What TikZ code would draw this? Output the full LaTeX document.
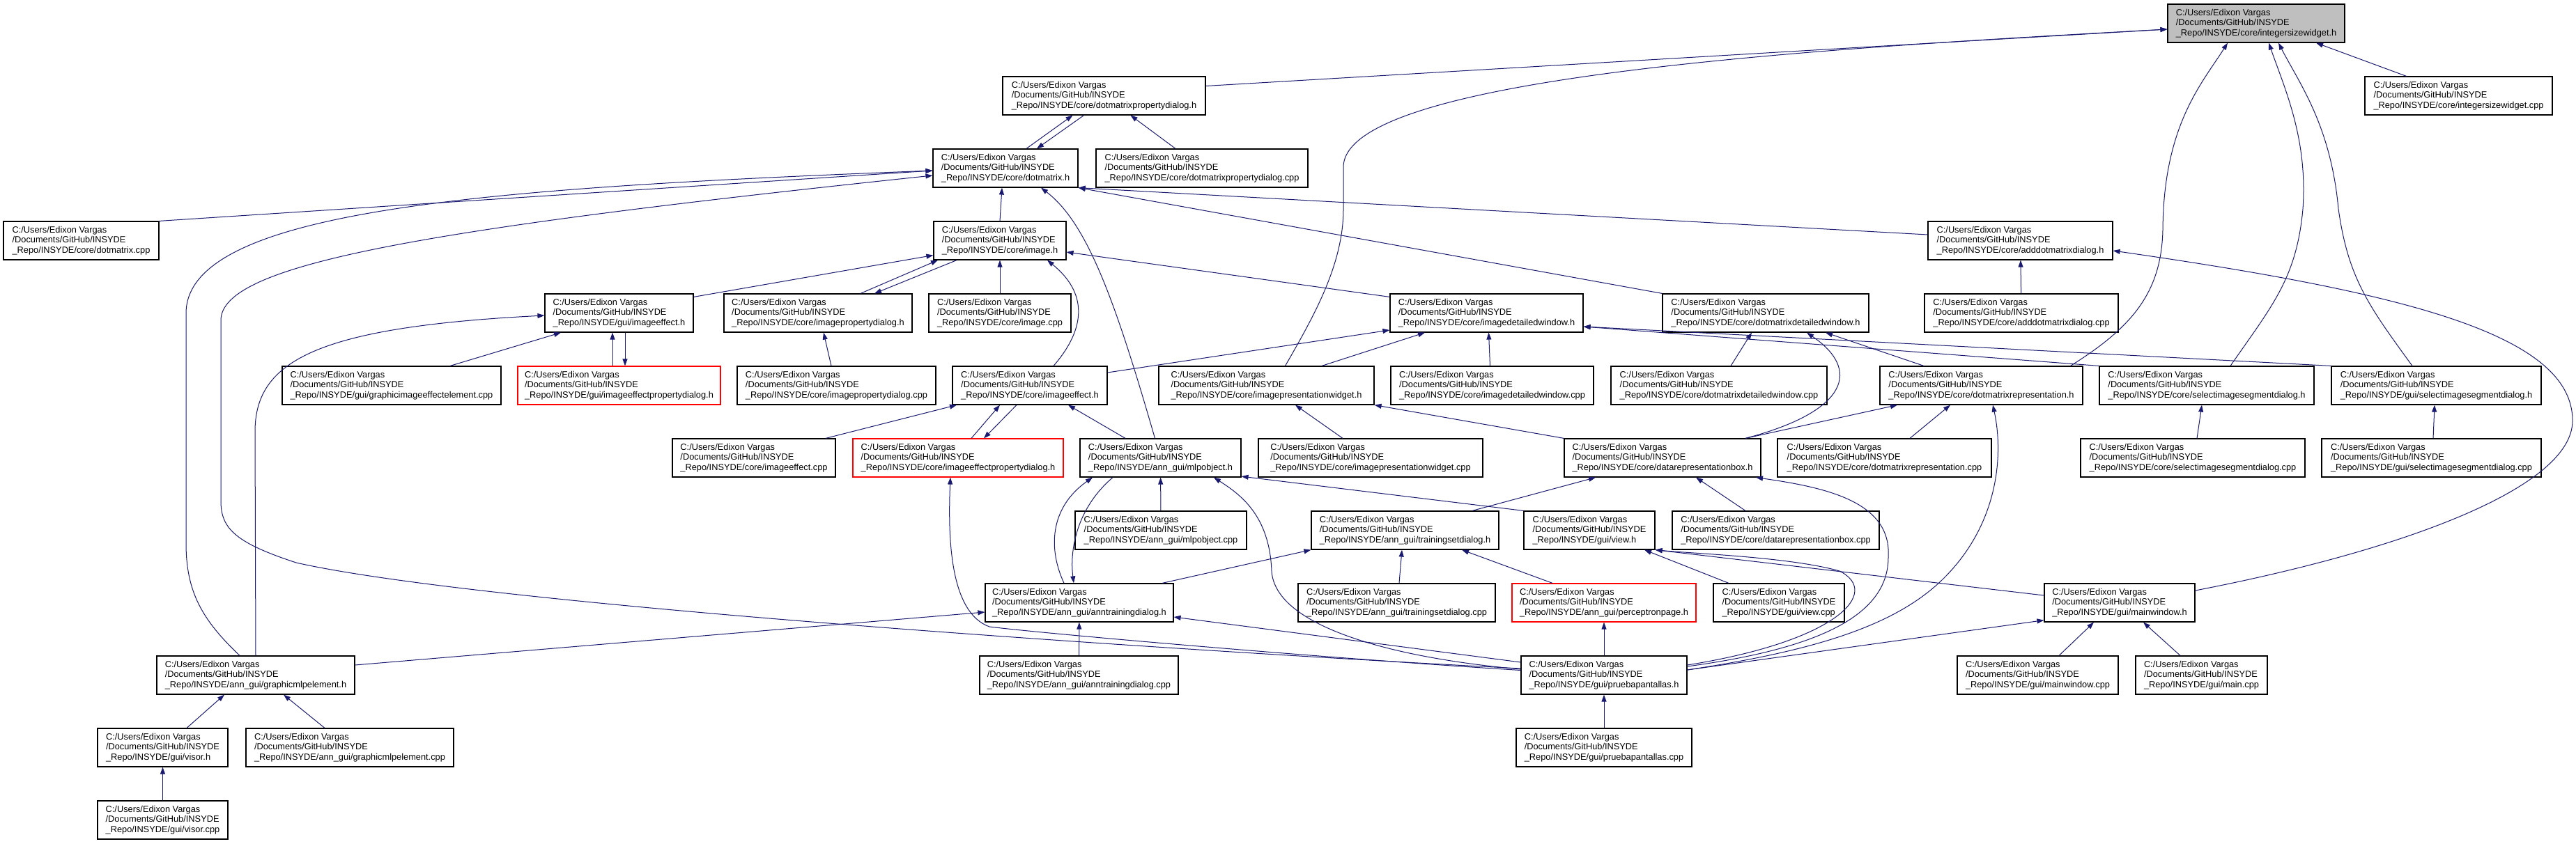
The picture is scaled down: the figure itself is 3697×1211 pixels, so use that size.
\documentclass[tikz,border=0pt]{standalone}
\usepackage{fontspec}
\setmainfont{Liberation Sans}
\usepackage{xcolor,tikz}
\usetikzlibrary{arrows.meta}
\definecolor{edgeblue}{RGB}{25,25,112}
\newcommand{\insyde}{C:/Users/Edixon Vargas\\/Documents/GitHub/INSYDE\\\_Repo/INSYDE/}

\begin{document}
\begin{tikzpicture}[
  x=1pt,y=-1pt,
  file/.style={draw=black,line width=1.2pt,fill=white,align=left,minimum height=55pt,inner sep=3pt,
    font=\fontsize{12.8}{14.7}\selectfont},
  redfile/.style={file,draw=red},
  rootfile/.style={file,fill=gray!50},
  inc/.style={draw=edgeblue,line width=1pt,-{Triangle[length=10pt,width=7pt]}}
]
\useasboundingbox (0,0) rectangle (3697,1211);

% rows of files, top to bottom
\node[rootfile,minimum width=254pt] (isw) at (3238,33.5) {\insyde core/integersizewidget.h};

\node[file,minimum width=291pt] (dmpd) at (1584.5,137.5) {\insyde core/dotmatrixpropertydialog.h};
\node[file,minimum width=269pt] (iswcpp) at (3528.5,137.5) {\insyde core/integersizewidget.cpp};

\node[file,minimum width=208pt] (dm) at (1443,241.5) {\insyde core/dotmatrix.h};
\node[file,minimum width=304pt] (dmpdcpp) at (1725,241.5) {\insyde core/dotmatrixpropertydialog.cpp};

\node[file,minimum width=223pt] (dmcpp) at (116.5,345.5) {\insyde core/dotmatrix.cpp};
\node[file,minimum width=190pt] (img) at (1435,345.5) {\insyde core/image.h};
\node[file,minimum width=265pt] (adm) at (2899.5,345.5) {\insyde core/adddotmatrixdialog.h};

\node[file,minimum width=213pt] (gie) at (888.5,449.5) {\insyde gui/imageeffect.h};
\node[file,minimum width=270pt] (ipd) at (1174,449.5) {\insyde core/imagepropertydialog.h};
\node[file,minimum width=204pt] (imgcpp) at (1435,449.5) {\insyde core/image.cpp};
\node[file,minimum width=277pt] (idw) at (2133.5,449.5) {\insyde core/imagedetailedwindow.h};
\node[file,minimum width=296pt] (dmdw) at (2534,449.5) {\insyde core/dotmatrixdetailedwindow.h};
\node[file,minimum width=278pt] (admcpp) at (2901,449.5) {\insyde core/adddotmatrixdialog.cpp};

\node[file,minimum width=314pt] (ggecpp) at (562,553.5) {\insyde gui/graphicimageeffectelement.cpp};
\node[redfile,minimum width=291pt] (gied) at (888.5,553.5) {\insyde gui/imageeffectpropertydialog.h};
\node[file,minimum width=285pt] (ipdcpp) at (1200.5,553.5) {\insyde core/imagepropertydialog.cpp};
\node[file,minimum width=222pt] (cie) at (1478,553.5) {\insyde core/imageeffect.h};
\node[file,minimum width=309pt] (ipw) at (1817.5,553.5) {\insyde core/imagepresentationwidget.h};
\node[file,minimum width=291pt] (idwcpp) at (2141.5,553.5) {\insyde core/imagedetailedwindow.cpp};
\node[file,minimum width=310pt] (dmdwcpp) at (2467,553.5) {\insyde core/dotmatrixdetailedwindow.cpp};
\node[file,minimum width=291pt] (dmr) at (2843.5,553.5) {\insyde core/dotmatrixrepresentation.h};
\node[file,minimum width=308pt] (csisd) at (3167,553.5) {\insyde core/selectimagesegmentdialog.h};
\node[file,minimum width=301pt] (gsisd) at (3496.5,553.5) {\insyde gui/selectimagesegmentdialog.h};

\node[file,minimum width=234pt] (ciecpp) at (1082,657.5) {\insyde core/imageeffect.cpp};
\node[redfile,minimum width=302pt] (cied) at (1375,657.5) {\insyde core/imageeffectpropertydialog.h};
\node[file,minimum width=231pt] (mlpo) at (1665.5,657.5) {\insyde ann\_gui/mlpobject.h};
\node[file,minimum width=322pt] (ipwcpp) at (1967,657.5) {\insyde core/imagepresentationwidget.cpp};
\node[file,minimum width=282pt] (drb) at (2386,657.5) {\insyde core/datarepresentationbox.h};
\node[file,minimum width=307pt] (dmrcpp) at (2704.5,657.5) {\insyde core/dotmatrixrepresentation.cpp};
\node[file,minimum width=322pt] (csisdcpp) at (3147,657.5) {\insyde core/selectimagesegmentdialog.cpp};
\node[file,minimum width=315pt] (gsisdcpp) at (3489.5,657.5) {\insyde gui/selectimagesegmentdialog.cpp};

\node[file,minimum width=246pt] (mlpocpp) at (1666,761.5) {\insyde ann\_gui/mlpobject.cpp};
\node[file,minimum width=269pt] (tsd) at (2016.5,761.5) {\insyde ann\_gui/trainingsetdialog.h};
\node[file,minimum width=188pt] (view) at (2281,761.5) {\insyde gui/view.h};
\node[file,minimum width=297pt] (drbcpp) at (2548.5,761.5) {\insyde core/datarepresentationbox.cpp};

\node[file,minimum width=270pt] (atd) at (1549,865.5) {\insyde ann\_gui/anntrainingdialog.h};
\node[file,minimum width=283pt] (tsdcpp) at (2004.5,865.5) {\insyde ann\_gui/trainingsetdialog.cpp};
\node[redfile,minimum width=264pt] (pcp) at (2302,865.5) {\insyde ann\_gui/perceptronpage.h};
\node[file,minimum width=188pt] (viewcpp) at (2553,865.5) {\insyde gui/view.cpp};
\node[file,minimum width=216pt] (mw) at (3042,865.5) {\insyde gui/mainwindow.h};

\node[file,minimum width=284pt] (gmlpe) at (367,969.5) {\insyde ann\_gui/graphicmlpelement.h};
\node[file,minimum width=285pt] (atdcpp) at (1548.5,969.5) {\insyde ann\_gui/anntrainingdialog.cpp};
\node[file,minimum width=238pt] (pp) at (2302,969.5) {\insyde gui/pruebapantallas.h};
\node[file,minimum width=231pt] (mwcpp) at (2924.5,969.5) {\insyde gui/mainwindow.cpp};
\node[file,minimum width=189pt] (maincpp) at (3159.5,969.5) {\insyde gui/main.cpp};

\node[file,minimum width=187pt] (visor) at (233.5,1073.5) {\insyde gui/visor.h};
\node[file,minimum width=298pt] (gmlpecpp) at (502,1073.5) {\insyde ann\_gui/graphicmlpelement.cpp};
\node[file,minimum width=252pt] (ppcpp) at (2302,1073.5) {\insyde gui/pruebapantallas.cpp};

\node[file,minimum width=187pt] (visorcpp) at (233.5,1177.5) {\insyde gui/visor.cpp};

% includes of integersizewidget.h
\draw[inc] ([yshift=14pt]dmpd.east) -- ([yshift=-8.5pt]isw.west);
\draw[inc] ([xshift=27pt]ipw.north) .. controls (1885,455) and (1928,380) .. (1928,300) -- (1928,240)
  .. controls (1928,110) and (2600,70) .. ([yshift=-8.5pt]isw.west);
\draw[inc] ([xshift=128pt]dmr.north) .. controls (3060,470) and (3102,420) .. (3104,330)
  .. controls (3105,180) and (3160,120) .. ([xshift=-41pt]isw.south);
\draw[inc] ([xshift=34pt]csisd.north) .. controls (3260,440) and (3296,400) .. (3305,300)
  .. controls (3312,200) and (3280,130) .. ([xshift=18pt]isw.south);
\draw[inc] ([xshift=-34.5pt]gsisd.north) .. controls (3400,440) and (3370,400) .. (3356,300)
  .. controls (3345,180) and (3300,120) .. ([xshift=32pt]isw.south);
\draw[inc] ([xshift=-75pt]iswcpp.north) -- ([xshift=86pt]isw.south);

% dotmatrixpropertydialog.h and dotmatrix.h
\draw[inc] ([xshift=30pt]dm.north) -- ([xshift=-45pt]dmpd.south);
\draw[inc] ([xshift=-29pt]dmpd.south) -- ([xshift=45pt]dm.north);
\draw[inc] ([xshift=-38pt]dmpdcpp.north) -- ([xshift=38pt]dmpd.south);
\draw[inc] (dmcpp.north east) -- ([yshift=-3.5pt]dm.west);
\draw[inc] ([xshift=-23pt]gmlpe.north) .. controls (290,890) and (267,850) .. (267,780) -- (267,450)
  .. controls (267,300) and (700,270) .. ([yshift=-3.5pt]dm.west);
\draw[inc] ([yshift=9.5pt]pp.west) .. controls (1700,935) and (700,870) .. (425,808)
  .. controls (340,780) and (317,760) .. (317,720) -- (317,460)
  .. controls (317,380) and (600,330) .. ([yshift=-10.5pt]dm.west);
\draw[inc] (img.north) -- ([xshift=-5pt]dm.south);
\draw[inc] ([xshift=-8pt]mlpo.north) .. controls (1600,430) and (1560,320) .. ([xshift=51pt]dm.south);
\draw[inc] ([yshift=8.5pt]adm.west) -- (dm.south east);
\draw[inc] (dmdw.north west) -- (dm.south east);

% image.h
\draw[inc] ([yshift=-5pt]gie.north east) -- ([yshift=-21pt]img.west);
\draw[inc] ([xshift=61pt]ipd.north) -- ([xshift=-89pt]img.south);
\draw[inc] ([xshift=-62pt]img.south) -- ([xshift=81pt]ipd.north);
\draw[inc] (imgcpp) -- (img);
\draw[inc] ([xshift=34pt]cie.north) .. controls (1560,470) and (1560,420) .. ([xshift=68pt]img.south);
\draw[inc] ([yshift=-5pt]idw.north west) -- ([yshift=-16.5pt]img.east);

% adddotmatrixdialog.h
\draw[inc] (admcpp) -- (adm);
\draw[inc] ([yshift=17.5pt]mw.east) .. controls (3450,790) and (3692,700) .. (3692,604)
  .. controls (3692,480) and (3450,420) .. ([yshift=-14.5pt]adm.east);

% gui/imageeffect.h and imagepropertydialog.h
\draw[inc] ([xshift=84pt]ggecpp.north) -- ([xshift=-83.5pt]gie.south);
\draw[inc] ([xshift=-9.5pt]gied.north) -- ([xshift=-9.5pt]gie.south);
\draw[inc] ([xshift=8.5pt]gie.south) -- ([xshift=8.5pt]gied.north);
\draw[inc] (gmlpe.north) -- (366,620) .. controls (366,520) and (450,470) .. ([yshift=-3.5pt]gie.west);
\draw[inc] ([xshift=-7.5pt]ipdcpp.north) -- ([xshift=8pt]ipd.south);

% imagedetailedwindow.h and dotmatrixdetailedwindow.h
\draw[inc] ([xshift=79.5pt]ipw.north) -- ([xshift=-88.5pt]idw.south);
\draw[inc] ([xshift=-3pt]idwcpp.north) -- ([xshift=3pt]idw.south);
\draw[inc] ([yshift=18.5pt]cie.east) -- ([yshift=-24.5pt]idw.west);
\draw[inc] (csisd.north west) -- ([yshift=-19.5pt]idw.east);
\draw[inc] (gsisd.north west) -- ([yshift=-19.5pt]idw.east);
\draw[inc] ([xshift=17pt]dmdwcpp.north) -- ([xshift=-20pt]dmdw.south);
\draw[inc] ([xshift=119pt]drb.north) .. controls (2655,590) and (2670,530) .. ([xshift=59pt]dmdw.south);
\draw[inc] ([xshift=-82.5pt]dmr.north) -- ([xshift=86pt]dmdw.south);

% core/imageeffect.h
\draw[inc] ([xshift=103pt]ciecpp.north) -- ([xshift=-105pt]cie.south);
\draw[inc] ([xshift=19pt]cied.north) -- ([xshift=-43pt]cie.south);
\draw[inc] ([xshift=-19pt]cie.south) -- ([xshift=37pt]cied.north);
\draw[inc] ([xshift=-50.5pt]mlpo.north) -- ([xshift=55pt]cie.south);

% imagepresentationwidget.h, dotmatrixrepresentation.h, selectimagesegmentdialog.h
\draw[inc] ([xshift=-40pt]ipwcpp.north) -- ([xshift=41.5pt]ipw.south);
\draw[inc] (drb.north west) -- (ipw.south east);
\draw[inc] ([xshift=119pt]drb.north) -- ([xshift=-120.5pt]dmr.south);
\draw[inc] ([xshift=36.5pt]dmrcpp.north) -- ([xshift=-44.5pt]dmr.south);
\draw[inc] ([yshift=7.5pt]pp.east) .. controls (2600,935) and (2720,900) .. (2790,830)
  .. controls (2870,750) and (2875,650) .. ([xshift=16.5pt]dmr.south);
\draw[inc] ([xshift=6pt]csisdcpp.north) -- ([xshift=-7pt]csisd.south);
\draw[inc] ([xshift=2.5pt]gsisdcpp.north) -- ([xshift=-2.5pt]gsisd.south);

% mlpobject.h
\draw[inc] (mlpocpp) -- (mlpo);
\draw[inc] ([xshift=-22pt]atd.north) .. controls (1505,790) and (1505,730) .. ([xshift=-97.5pt]mlpo.south);
\draw[inc] ([xshift=-68.5pt]mlpo.south) .. controls (1545,730) and (1535,790) .. ([xshift=-8pt]atd.north);
\draw[inc] (view.north west) -- ([yshift=1.5pt]mlpo.south east);
\draw[inc] ([yshift=8.5pt]pp.west) .. controls (2000,945) and (1830,900) .. (1825,820)
  .. controls (1822,740) and (1780,710) .. ([xshift=76.5pt]mlpo.south);

% datarepresentationbox.h
\draw[inc] ([xshift=96.5pt]tsd.north) -- ([xshift=-96pt]drb.south);
\draw[inc] ([xshift=-43.5pt]drbcpp.north) -- ([xshift=48pt]drb.south);
\draw[inc] ([yshift=12.5pt]pp.east) .. controls (2620,930) and (2710,880) .. (2710,800)
  .. controls (2715,720) and (2620,700) .. ([xshift=134pt]drb.south);

% trainingsetdialog.h and view.h
\draw[inc] ([xshift=119pt]atd.north) -- (tsd.south west);
\draw[inc] ([xshift=3.5pt]tsdcpp.north) -- ([xshift=-4.5pt]tsd.south);
\draw[inc] ([xshift=-74pt]pcp.north) -- ([xshift=81.5pt]tsd.south);
\draw[inc] ([xshift=-72pt]viewcpp.north) -- ([xshift=79pt]view.south);
\draw[inc] ([yshift=10.5pt]mw.west) -- (view.south east);
\draw[inc] ([yshift=14.5pt]pp.east) .. controls (2640,920) and (2700,850) .. (2640,820)
  .. controls (2570,800) and (2430,795) .. (view.south east);

% anntrainingdialog.h
\draw[inc] ([yshift=14.5pt]gmlpe.east) -- ([yshift=-13.5pt]atd.west);
\draw[inc] (atdcpp) -- (atd);
\draw[inc] ([yshift=18.5pt]pp.west) -- ([yshift=-20.5pt]atd.east);

% pruebapantallas.h, mainwindow.h, graphicmlpelement.h
\draw[inc] ([yshift=7pt]pp.west) .. controls (1900,945) and (1500,910) .. (1420,900)
  .. controls (1365,880) and (1360,780) .. ([xshift=-11pt]cied.south);
\draw[inc] (pp) -- (pcp);
\draw[inc] ([yshift=7.5pt]pp.east) -- ([yshift=3pt]mw.south west);
\draw[inc] ([xshift=30.5pt]mwcpp.north) -- ([xshift=-37pt]mw.south);
\draw[inc] ([xshift=-30.5pt]maincpp.north) -- ([xshift=34pt]mw.south);
\draw[inc] ([xshift=34.5pt]visor.north) -- ([xshift=-45pt]gmlpe.south);
\draw[inc] ([xshift=-36pt]gmlpecpp.north) -- ([xshift=40pt]gmlpe.south);
\draw[inc] (visorcpp) -- (visor);
\draw[inc] (ppcpp) -- (pp);
\end{tikzpicture}
\end{document}
